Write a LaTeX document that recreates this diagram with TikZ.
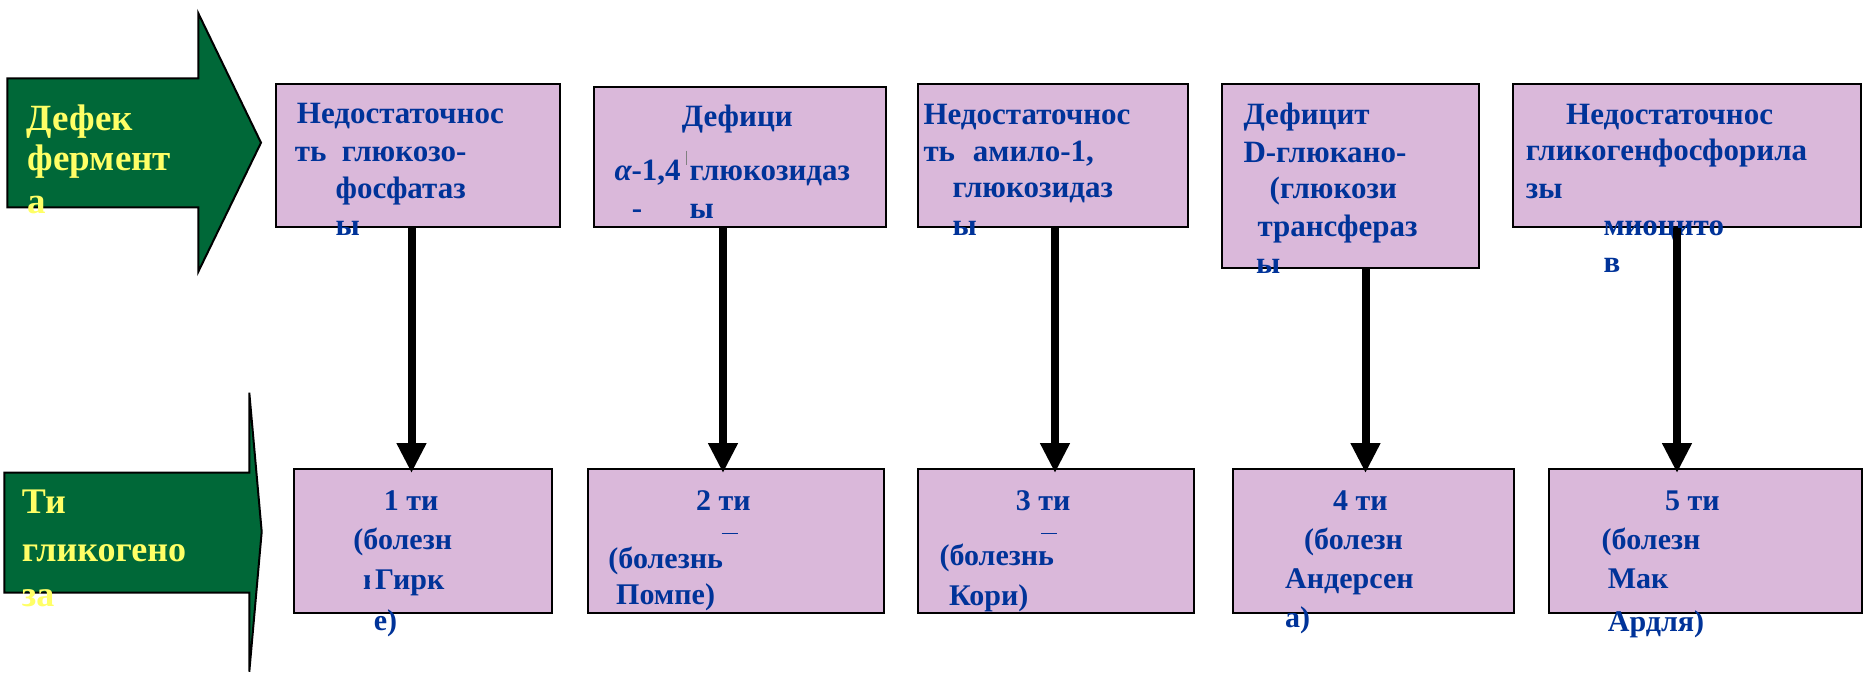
\documentclass[tikz,border=0pt]{standalone}
\usepackage{fontspec}
\setmainfont{Liberation Serif}
\usetikzlibrary{arrows.meta}
\definecolor{grn}{RGB}{0,104,56}
\definecolor{ylw}{RGB}{255,255,102}
\definecolor{txtblue}{RGB}{0,51,153}
\definecolor{boxfill}{RGB}{218,184,218}
\begin{document}
\begin{tikzpicture}[x=1pt,y=-1pt,
  box/.style={draw=black, line width=2.3pt, fill=boxfill, inner sep=0pt, anchor=north west},
  bt/.style={anchor=base west, inner sep=0pt, text=txtblue, font=\fontsize{31}{31}\selectfont\bfseries},
  bb/.style={anchor=base west, inner sep=0pt, text=txtblue, font=\fontsize{30}{30}\selectfont\bfseries},
  yt/.style={anchor=base west, inner sep=0pt, text=ylw, font=\fontsize{37}{37}\selectfont\bfseries},
  ytb/.style={anchor=base west, inner sep=0pt, text=ylw, font=\fontsize{36}{36}\selectfont\bfseries},
  garrow/.style={draw=black, line width=2pt, fill=grn, line join=miter},
  varrow/.style={line width=8pt, -{Triangle[width=28pt,length=30pt]}},
  thinmark/.style={line width=1.2pt}
]
\fill[white] (0,0) rectangle (1865,678);
\useasboundingbox (0,0) rectangle (1865,678);

% green arrows
\draw[garrow] (7.3,78.3) -- (198.3,78.3) -- (198.3,13.3) -- (261,142.7) -- (198.3,271.7) -- (198.3,207.3) -- (7.3,207.3) -- cycle;
\draw[garrow] (4.3,472.7) -- (249.3,472.7) -- (249.3,392.7) -- (261.7,531.7) -- (249.3,671.7) -- (249.3,592.7) -- (4.3,592.7) -- cycle;
\node[yt] (g1a) at (26.7,130) {Дефек};
\node[yt] (g1b) at (27.7,170) {фермент};
\node[yt] (g1c) at (27.7,213.3) {а};
\node[ytb] (g2a) at (21.7,513.3) {Ти};
\node[ytb] (g2b) at (21.7,561.7) {гликогено};
\node[ytb] (g2c) at (21.7,606.7) {за};

% top boxes
\node[box, minimum width=284pt, minimum height=143pt] (t1) at (275,83) {};
\node[box, minimum width=292pt, minimum height=140pt] (t2) at (593,86) {};
\node[box, minimum width=270pt, minimum height=143pt] (t3) at (917,83) {};
\node[box, minimum width=257pt, minimum height=184pt] (t4) at (1221,83) {};
\node[box, minimum width=348pt, minimum height=143pt] (t5) at (1512,83) {};

% bottom boxes
\node[box, minimum width=258pt, minimum height=144pt] (b1) at (293,468) {};
\node[box, minimum width=296pt, minimum height=144pt] (b2) at (586.5,468) {};
\node[box, minimum width=276pt, minimum height=144pt] (b3) at (917,468) {};
\node[box, minimum width=281pt, minimum height=144pt] (b4) at (1232,468) {};
\node[box, minimum width=313pt, minimum height=144pt] (b5) at (1548,468) {};

% top box texts
\node[bt] (t1a) at (296.7,123.3) {Недостаточнос};
\node[bt] (t1b) at (294.7,161.7) {ть};
\node[bt] (t1c) at (341.6,161.7) {глюкозо-};
\node[bt] (t1d) at (335.5,198.3) {фосфатаз};
\node[bt] (t1e) at (335.5,235) {ы};

\node[bt] (t2a) at (681.7,126.7) {Дефици};
\node[bt] (t2b) at (614.3,180) {{\itshape α}-1,4};
\node[bt] (t2c) at (689.3,180) {глюкозидаз};
\node[bt] (t2d) at (631.7,218.3) {-};
\node[bt] (t2e) at (689.3,218.3) {ы};
\draw[gray, line width=0.8pt] (686.7,150.7) -- (686.7,165);

\node[bt] (t3a) at (923.3,124) {Недостаточнос};
\node[bt] (t3b) at (923.3,161.7) {ть};
\node[bt] (t3c) at (972.7,161.7) {амило-1,};
\node[bt] (t3d) at (952.3,197.3) {глюкозидаз};
\node[bt] (t3e) at (952.3,235.7) {ы};

\node[bt] (t4a) at (1243.3,124) {Дефицит};
\node[bt] (t4b) at (1243.3,162.7) {D-глюкано-};
\node[bt] (t4c) at (1269.5,198.3) {(глюкози};
\node[bt] (t4d) at (1257.3,236.7) {трансфераз};
\node[bt] (t4e) at (1256,273.3) {ы};

\node[bt] (t5a) at (1566,124) {Недостаточнос};
\node[bt] (t5b) at (1525.7,160) {гликогенфосфорила};
\node[bt] (t5c) at (1525.7,198.3) {зы};
\node[bt] (t5d) at (1603.3,235.7) {миоцито};
\node[bt] (t5e) at (1603.3,272.3) {в};

% bottom box texts
\node[bb] (b1a) at (383.6,510) {1 ти};
\node[bb] (b1b) at (353.2,549.3) {(болезн};
\begin{scope}
\clip (355,555) rectangle (369,600);
\node[bb] (b1c0) at (363,589.3) {ь};
\end{scope}
\node[bb] (b1c) at (374.9,589.3) {Гирк};
\node[bb] (b1d) at (373.7,630) {е)};

\node[bb] (b2a) at (696,510) {2 ти};
\draw[txtblue, thinmark] (721.7,533.3) -- (737.5,533.3);
\node[bb] (b2b) at (608.2,568.3) {(болезнь};
\node[bb] (b2c) at (616,604) {Помпе)};

\node[bb] (b3a) at (1015.7,510.7) {3 ти};
\draw[txtblue, thinmark] (1041,533.3) -- (1057.3,533.3);
\node[bb] (b3b) at (939.3,565) {(болезнь};
\node[bb] (b3c) at (949,605) {Кори)};

\node[bb] (b4a) at (1333,510) {4 ти};
\node[bb] (b4b) at (1304,549) {(болезн};
\node[bb] (b4c) at (1285,588) {Андерсен};
\node[bb] (b4d) at (1285,627) {а)};

\node[bb] (b5a) at (1665,510) {5 ти};
\node[bb] (b5b) at (1601.5,549) {(болезн};
\node[bb] (b5c) at (1607.7,588.3) {Мак};
\node[bb] (b5d) at (1607.7,631.7) {Ардля)};

% vertical arrows
\coordinate (e1) at (411.5,473);
\coordinate (e2) at (723,473);
\coordinate (e3) at (1055,473);
\coordinate (e4) at (1365.5,473);
\coordinate (e5) at (1677,473);
\draw[varrow] (t1.south -| e1) -- (e1);
\draw[varrow] (t2.south -| e2) -- (e2);
\draw[varrow] (t3.south -| e3) -- (e3);
\draw[varrow] (t4.south -| e4) -- (e4);
\draw[varrow] (t5.south -| e5) -- (e5);
\end{tikzpicture}
\end{document}
